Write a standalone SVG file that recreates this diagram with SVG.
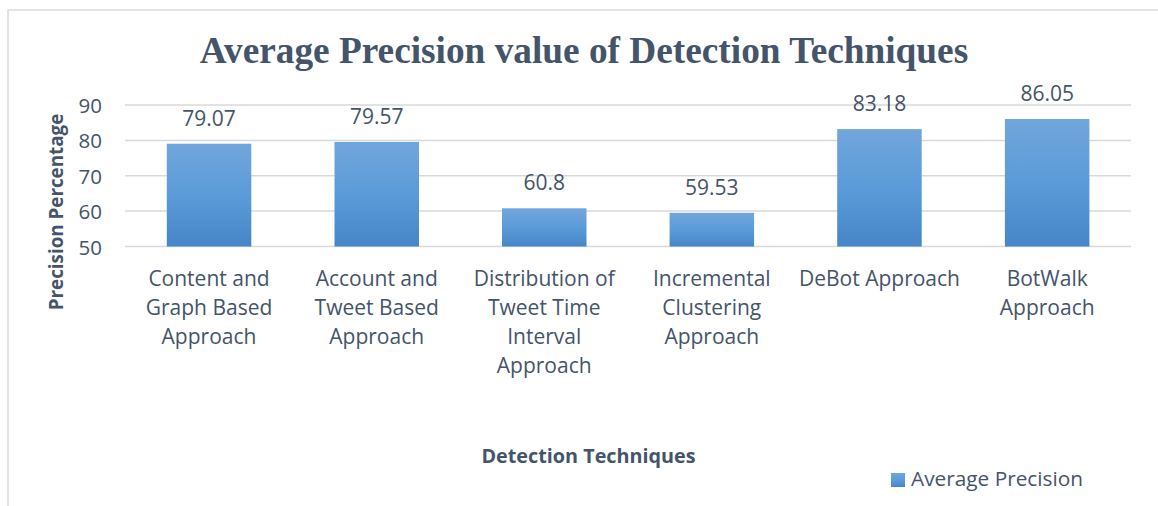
<svg xmlns="http://www.w3.org/2000/svg" width="1158" height="506" viewBox="0 0 1158 506">
  <style>
    .t { font-family: "Open Sans", "Liberation Sans", sans-serif; fill: #44546A; }
    .val { font-size: 21px; text-anchor: middle; }
    .tick { font-size: 20.5px; text-anchor: end; }
    .cat { font-size: 21px; text-anchor: middle; }
    .axt { font-weight: bold; text-anchor: middle; }
    .grid { stroke: #D9D9D9; stroke-width: 1.5; }
    .bar { fill: url(#barFill); }
  </style>
  <defs>
    <linearGradient id="barFill" x1="0" y1="0" x2="0" y2="1">
      <stop offset="0" stop-color="#71A6DB"/>
      <stop offset="0.5" stop-color="#5B9BD9"/>
      <stop offset="1" stop-color="#4686C8"/>
    </linearGradient>
  </defs>
  <rect width="1158" height="506" fill="#FFFFFF"/>
  <!-- chart frame (top and left edges) -->
  <path d="M8,506 V10 H1158" fill="none" stroke="#D9DCE3" stroke-width="1.5"/>

  <!-- title -->
  <text x="584" y="63" text-anchor="middle" font-family="'Liberation Serif', serif" font-weight="bold" font-size="37.3" fill="#44546A">Average Precision value of Detection Techniques</text>

  <!-- gridlines -->
  <g id="grid">
    <line class="grid" x1="125" y1="105" x2="1131" y2="105"/>
    <line class="grid" x1="125" y1="140.4" x2="1131" y2="140.4"/>
    <line class="grid" x1="125" y1="175.75" x2="1131" y2="175.75"/>
    <line class="grid" x1="125" y1="211.1" x2="1131" y2="211.1"/>
    <line class="grid" x1="125" y1="246.5" x2="1131" y2="246.5"/>
  </g>

  <!-- y axis ticks -->
  <g id="yaxis" class="t tick">
    <text x="102" y="113">90</text>
    <text x="102" y="148.4">80</text>
    <text x="102" y="183.75">70</text>
    <text x="102" y="219.1">60</text>
    <text x="102" y="254.5">50</text>
  </g>
  <text class="t axt" font-size="18.8" transform="translate(63,212) rotate(-90)">Precision Percentage</text>

  <!-- bars -->
  <g id="bar-content-graph">
    <rect class="bar" x="166.8" y="143.7" width="84.5" height="102.8"/>
    <text class="t val" x="209" y="125.7">79.07</text>
    <text class="t cat" x="209" y="286">Content and<tspan x="209" dy="29">Graph Based</tspan><tspan x="209" dy="29">Approach</tspan></text>
  </g>
  <g id="bar-account-tweet">
    <rect class="bar" x="334.5" y="141.9" width="84.5" height="104.6"/>
    <text class="t val" x="376.7" y="123.9">79.57</text>
    <text class="t cat" x="376.7" y="286">Account and<tspan x="376.7" dy="29">Tweet Based</tspan><tspan x="376.7" dy="29">Approach</tspan></text>
  </g>
  <g id="bar-distribution">
    <rect class="bar" x="502" y="208.3" width="84.5" height="38.2"/>
    <text class="t val" x="544.2" y="190.3">60.8</text>
    <text class="t cat" x="544.2" y="286">Distribution of<tspan x="544.2" dy="29">Tweet Time</tspan><tspan x="544.2" dy="29">Interval</tspan><tspan x="544.2" dy="29">Approach</tspan></text>
  </g>
  <g id="bar-incremental">
    <rect class="bar" x="669.6" y="212.8" width="84.5" height="33.7"/>
    <text class="t val" x="711.8" y="194.8">59.53</text>
    <text class="t cat" x="711.8" y="286">Incremental<tspan x="711.8" dy="29">Clustering</tspan><tspan x="711.8" dy="29">Approach</tspan></text>
  </g>
  <g id="bar-debot">
    <rect class="bar" x="837.2" y="129.1" width="84.5" height="117.4"/>
    <text class="t val" x="879.5" y="111.1">83.18</text>
    <text class="t cat" x="879.5" y="286">DeBot Approach</text>
  </g>
  <g id="bar-botwalk">
    <rect class="bar" x="1004.9" y="119" width="84.5" height="127.5"/>
    <text class="t val" x="1047.2" y="101">86.05</text>
    <text class="t cat" x="1047.2" y="286">BotWalk<tspan x="1047.2" dy="29">Approach</tspan></text>
  </g>

  <!-- x axis title -->
  <text class="t axt" font-size="19.8" x="588.5" y="463">Detection Techniques</text>

  <!-- legend -->
  <g id="legend">
    <rect class="bar" x="891" y="473" width="14" height="14"/>
    <text class="t" x="911" y="486" font-size="20.8">Average Precision</text>
  </g>
</svg>
